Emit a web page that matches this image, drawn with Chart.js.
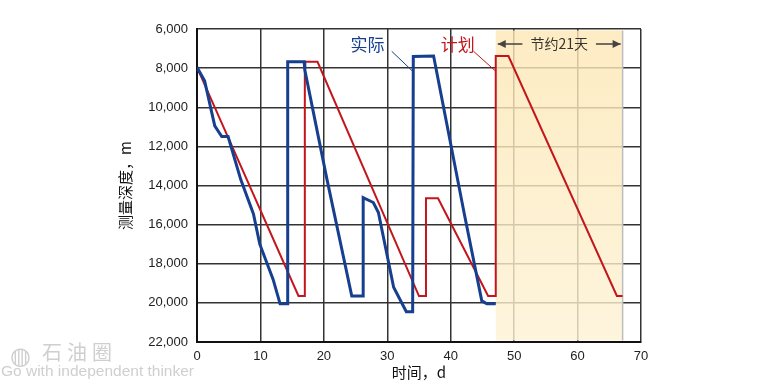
<!DOCTYPE html>
<html>
<head>
<meta charset="utf-8">
<script src="https://cdn.jsdelivr.net/npm/chart.js@4.4.1/dist/chart.umd.min.js"></script>
<style>
  body { margin: 0; background: #fff; }
  #wrap { position: relative; width: 775px; height: 388px; }
  .wm { position: absolute; color: #cfcfcf; font-family: 'Noto Sans CJK SC', sans-serif; white-space: nowrap; }
</style>
</head>
<body>
<div id="wrap">
  <canvas id="depthChart" width="775" height="388"></canvas>
  <div class="wm" style="left:10px; top:336px; font-size:24px;">◍</div>
  <div class="wm" style="left:42px; top:337px; font-size:20px; letter-spacing:5px;">石油圈</div>
  <div class="wm" style="left:1px; top:362px; font-size:15.5px; font-family:'Liberation Sans', sans-serif;">Go with independent thinker</div>
</div>
<script>
// actual (blue) drilling curve
const actualDays  = [0, 1.2, 2.8, 3.9, 4.9, 6.9, 8.9, 9.9, 12.0, 13.1, 14.3, 14.3, 16.9, 17.0, 20.5, 24.4, 26.2, 26.2, 27.8, 28.6, 31.0, 33.0, 34.0, 34.1, 37.3, 42.2, 44.9, 45.7, 47.1];
const actualDepth = [7960, 8650, 10950, 11500, 11500, 13700, 15450, 17000, 18800, 20050, 20050, 7680, 7680, 8100, 13700, 19650, 19650, 14620, 14870, 15380, 19200, 20450, 20450, 7400, 7380, 15550, 19900, 20050, 20050];

// planned (red) curve
const planDays  = [0, 16.0, 17.0, 17.0, 19.0, 35.0, 36.1, 36.1, 38.0, 45.9, 47.1, 47.1, 49.1, 66.2, 67.1];
const planDepth = [7960, 19650, 19650, 7680, 7680, 19650, 19650, 14650, 14650, 19650, 19650, 7380, 7380, 19650, 19650];

const xTicks = [0, 10, 20, 30, 40, 50, 60, 70];
const yTicks = [6000, 8000, 10000, 12000, 14000, 16000, 18000, 20000, 22000];

// saved period
const savedStart = 47.1;
const savedEnd = 67.1;
const savedLabel = '节约21天';

const toPoints = (xs, ys) => xs.map((x, i) => ({ x: x, y: ys[i] }));

const tickFont = { family: "'Liberation Sans Narrow', 'Liberation Sans', Arial, sans-serif", size: 13 };
const cjk = "'Noto Sans CJK SC', sans-serif";

const savedPlugin = {
  id: 'savedPlugin',
  beforeDatasetsDraw(chart) {
    const { ctx, chartArea, scales } = chart;
    const x1 = scales.x.getPixelForValue(savedStart);
    const x2 = scales.x.getPixelForValue(savedEnd);
    const top = chartArea.top + 1.5, bottom = chartArea.bottom - 1.5;
    ctx.save();
    const g = ctx.createLinearGradient(0, top, 0, bottom);
    g.addColorStop(0, 'rgba(253, 231, 180, 0.8)');
    g.addColorStop(1, 'rgba(253, 242, 212, 0.8)');
    ctx.fillStyle = g;
    ctx.fillRect(x1, top, x2 - x1, bottom - top);
    ctx.strokeStyle = '#bdbdbd';
    ctx.lineWidth = 1.5;
    ctx.beginPath();
    ctx.moveTo(x2, top);
    ctx.lineTo(x2, bottom);
    ctx.stroke();
    ctx.restore();
  },
  afterDatasetsDraw(chart) {
    const { ctx, scales } = chart;
    const X = v => scales.x.getPixelForValue(v);
    const Y = v => scales.y.getPixelForValue(v);
    ctx.save();

    // saved-days arrow
    const ay = Y(6770);
    const x1 = X(savedStart) + 2, x2 = X(savedEnd) - 2;
    const mid = (x1 + x2) / 2;
    ctx.font = '14px ' + cjk;
    ctx.fillStyle = '#333';
    ctx.textAlign = 'center';
    ctx.textBaseline = 'middle';
    ctx.fillText(savedLabel, mid, ay);
    const half = ctx.measureText(savedLabel).width / 2 + 8;
    ctx.strokeStyle = '#444';
    ctx.fillStyle = '#444';
    ctx.lineWidth = 1.5;
    ctx.beginPath();
    ctx.moveTo(x1, ay); ctx.lineTo(mid - half, ay);
    ctx.moveTo(mid + half, ay); ctx.lineTo(x2, ay);
    ctx.stroke();
    [[x1, 1], [x2, -1]].forEach(([px, d]) => {
      ctx.beginPath();
      ctx.moveTo(px, ay);
      ctx.lineTo(px + 8 * d, ay - 4);
      ctx.lineTo(px + 8 * d, ay + 4);
      ctx.closePath();
      ctx.fill();
    });

    // series labels with leader lines
    const labels = [
      { text: '实际', color: '#163f8f', x: 26.9, y: 6820, from: [30.7, 7140], to: [34.0, 8160] },
      { text: '计划', color: '#c3161c', x: 41.1, y: 6820, from: [43.6, 7140], to: [47.1, 8160] }
    ];
    ctx.font = '17px ' + cjk;
    labels.forEach(l => {
      ctx.fillStyle = l.color;
      ctx.fillText(l.text, X(l.x), Y(l.y));
      ctx.strokeStyle = l.color;
      ctx.lineWidth = 1;
      ctx.beginPath();
      ctx.moveTo(X(l.from[0]), Y(l.from[1]));
      ctx.lineTo(X(l.to[0]), Y(l.to[1]));
      ctx.stroke();
    });
    ctx.restore();
  }
};

new Chart(document.getElementById('depthChart'), {
  type: 'line',
  data: {
    datasets: [{
      label: '实际',
      data: toPoints(actualDays, actualDepth),
      borderColor: '#163f8f',
      borderWidth: 3,
      pointRadius: 0,
      tension: 0,
      fill: false
    }, {
      label: '计划',
      data: toPoints(planDays, planDepth),
      borderColor: '#c3161c',
      borderWidth: 2,
      pointRadius: 0,
      tension: 0,
      fill: false
    }]
  },
  options: {
    responsive: false,
    animation: false,
    layout: { padding: { top: 29, left: 112, right: 134, bottom: 0 } },
    plugins: {
      legend: { display: false },
      tooltip: { enabled: false }
    },
    scales: {
      x: {
        type: 'linear',
        min: 0,
        max: 70,
        afterBuildTicks: s => { s.ticks = xTicks.map(v => ({ value: v })); },
        afterFit: s => { s.height = 46; },
        grid: { color: '#333', lineWidth: 1.5, drawTicks: false },
        border: { color: '#111', width: 2 },
        ticks: { font: tickFont, color: '#222', padding: 7 },
        title: { display: true, text: '时间，d', font: { family: cjk, size: 15 }, color: '#111', padding: { top: 0, bottom: 7 } }
      },
      y: {
        type: 'linear',
        reverse: true,
        min: 6000,
        max: 22000,
        afterBuildTicks: s => { s.ticks = yTicks.map(v => ({ value: v })); },
        afterFit: s => { s.width = 197 - 112; },
        grid: { color: '#333', lineWidth: 1.5, drawTicks: false },
        border: { color: '#111', width: 2 },
        ticks: { font: tickFont, color: '#222', padding: 9, callback: v => v.toLocaleString('en-US') },
        title: { display: true, text: '测量深度，m', font: { family: cjk, size: 15 }, color: '#111', padding: { top: 4, bottom: 0 } }
      }
    }
  },
  plugins: [savedPlugin]
});
</script>
</body>
</html>
